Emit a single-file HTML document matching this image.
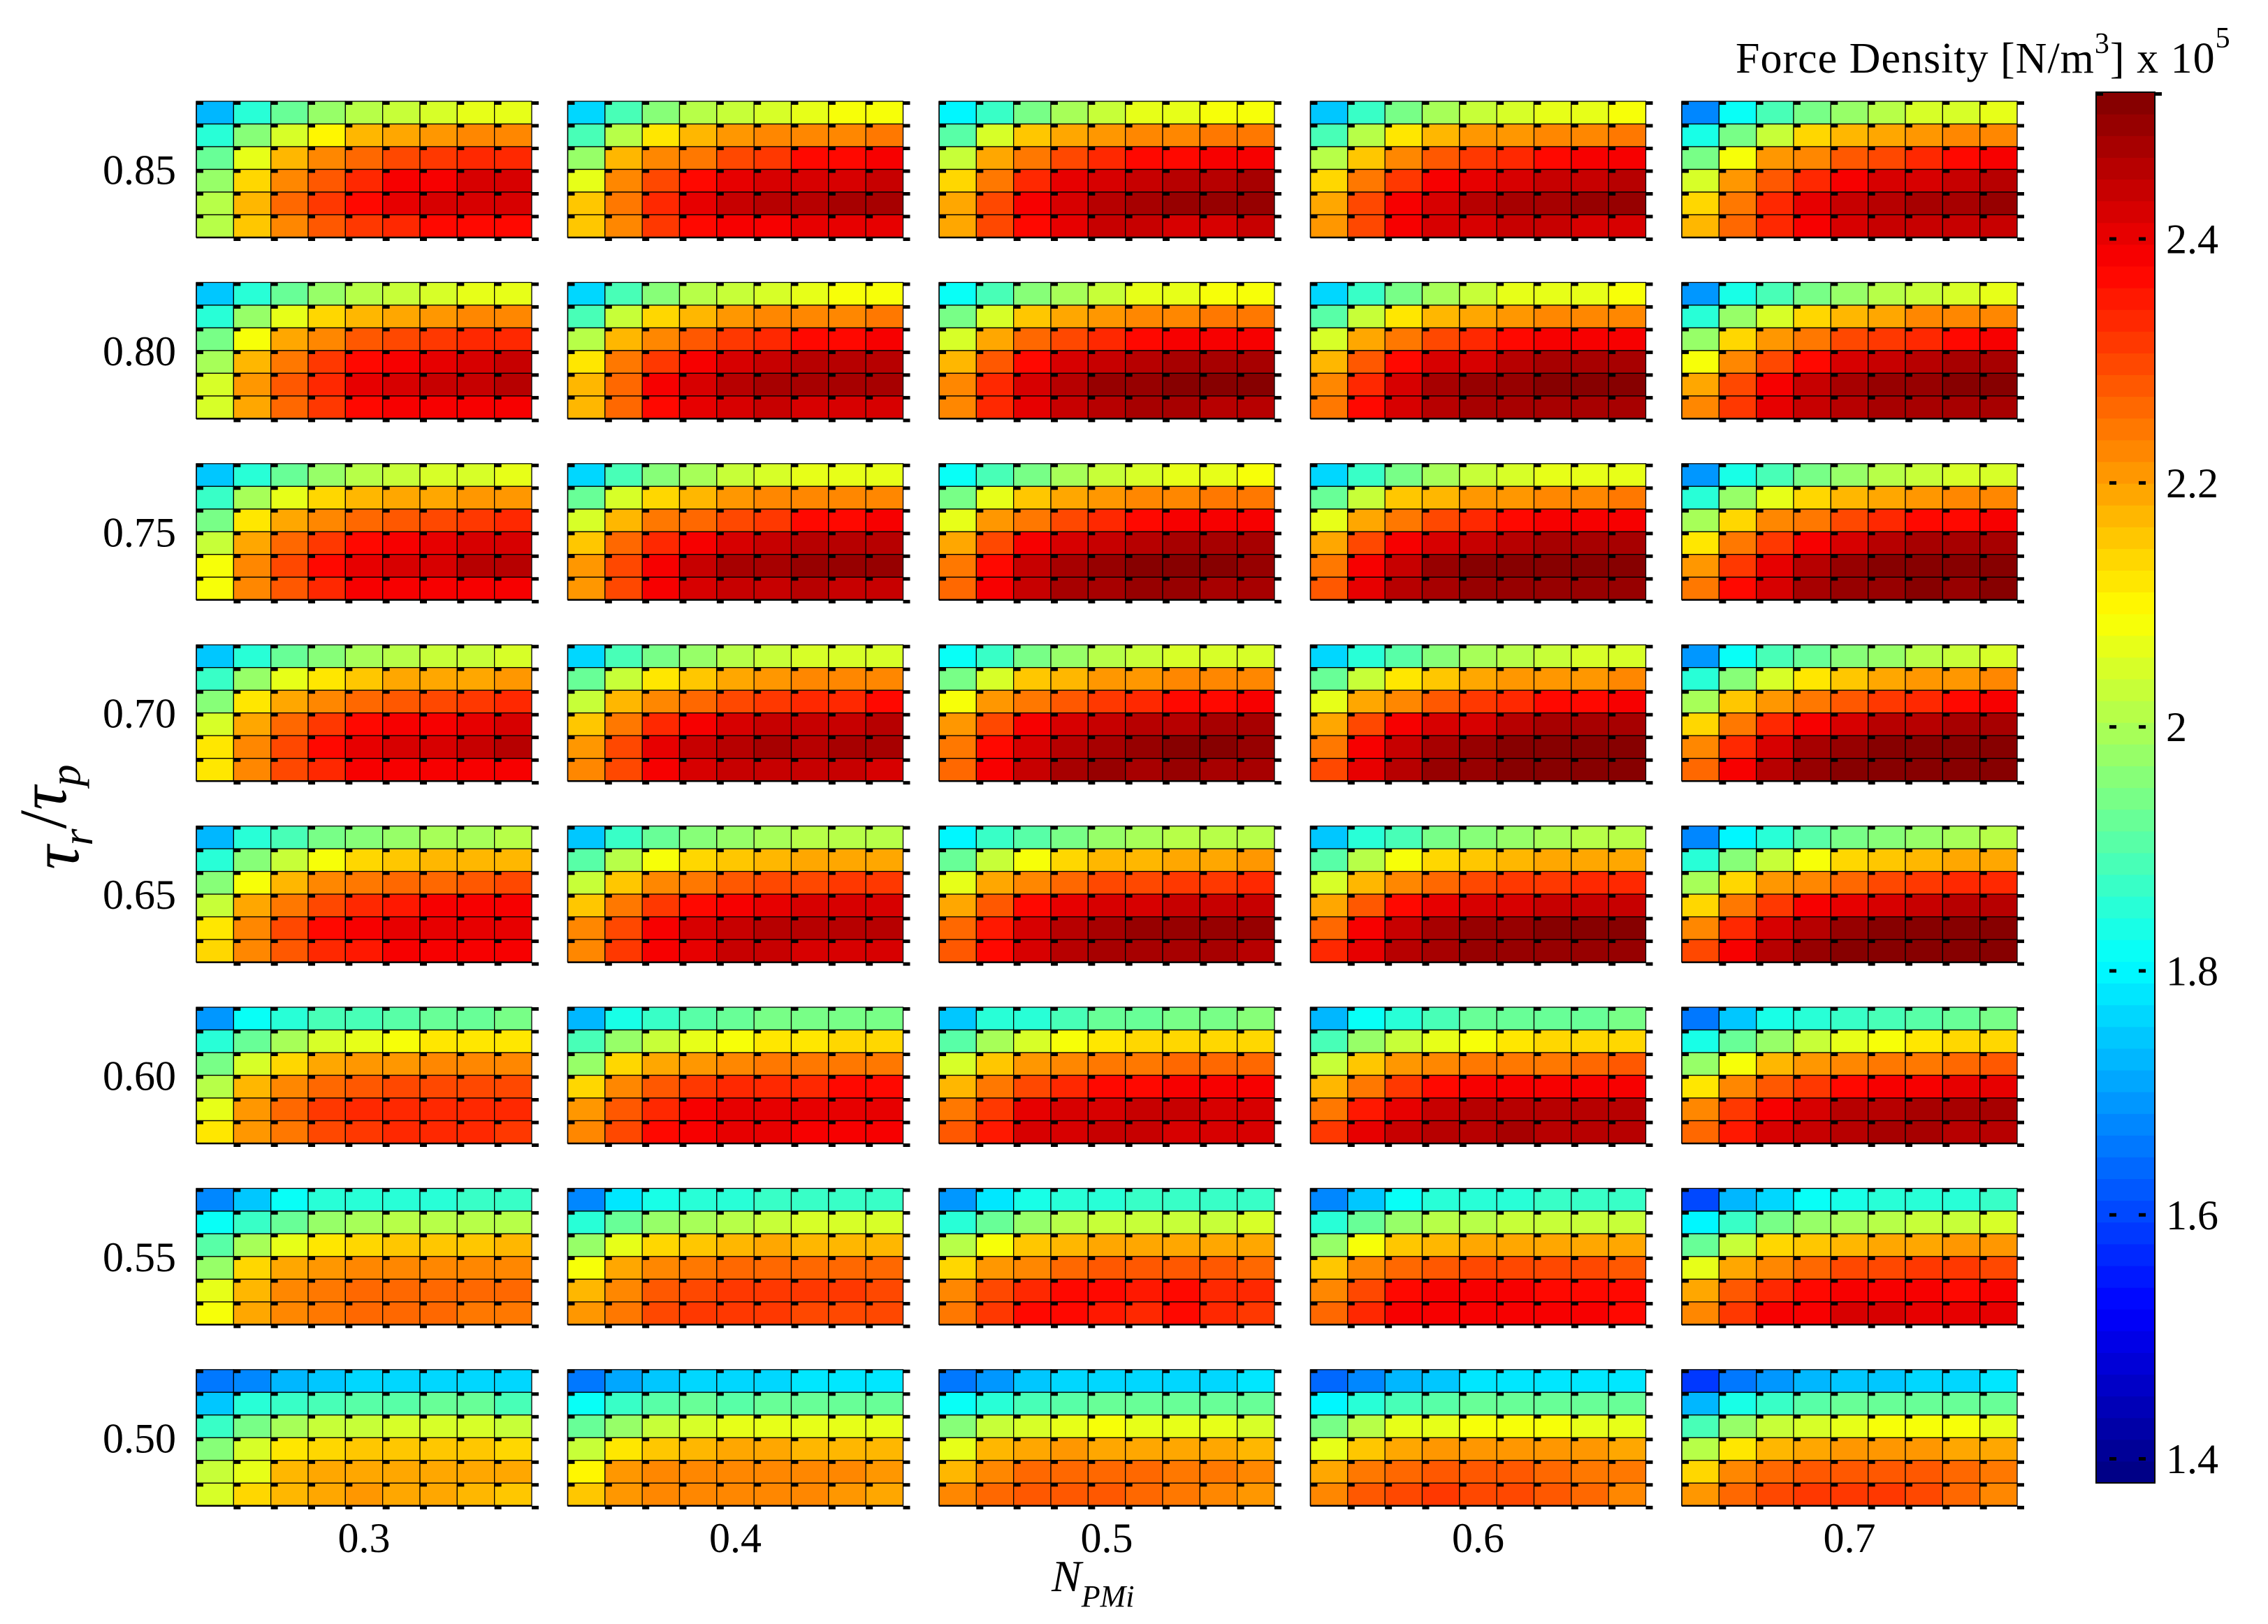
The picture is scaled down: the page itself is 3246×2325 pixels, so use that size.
<!DOCTYPE html>
<html>
<head>
<meta charset="utf-8">
<style>
html,body{margin:0;padding:0;background:#fff;}
svg{display:block;}
text{font-family:"Liberation Serif","DejaVu Serif",serif;fill:#000;}
</style>
</head>
<body>
<svg id="chart" width="3246" height="2325" viewBox="0 0 3246 2325" xmlns="http://www.w3.org/2000/svg"></svg>
<script>
const rowLabels = ['0.85','0.80','0.75','0.70','0.65','0.60','0.55','0.50'];
const colLabels = ['0.3','0.4','0.5','0.6','0.7'];
const cbTicks = [1.4,1.6,1.8,2.0,2.2,2.4];
const cbTickLabels = ['1.4','1.6','1.8','2','2.2','2.4'];
const cMin = 1.38;
const cMax = 2.52;

const fd085 = [
[[1.72,1.85,1.93,1.98,2.02,2.035,2.05,2.07,2.07],[1.85,1.95,2.05,2.11,2.17,2.185,2.20,2.22,2.235],[1.93,2.07,2.17,2.22,2.27,2.30,2.32,2.34,2.34],[1.98,2.13,2.235,2.285,2.34,2.38,2.395,2.415,2.415],[2.02,2.17,2.27,2.32,2.36,2.40,2.415,2.43,2.43],[2.02,2.15,2.235,2.285,2.32,2.34,2.36,2.36,2.36]],
[[1.76,1.89,1.95,2.02,2.035,2.05,2.07,2.09,2.09],[1.89,2.02,2.12,2.17,2.20,2.22,2.235,2.235,2.25],[1.98,2.17,2.22,2.25,2.30,2.32,2.36,2.36,2.38],[2.07,2.22,2.30,2.36,2.41,2.42,2.43,2.43,2.445],[2.15,2.25,2.34,2.40,2.44,2.455,2.455,2.47,2.47],[2.15,2.235,2.32,2.36,2.38,2.395,2.40,2.40,2.40]],
[[1.79,1.87,1.94,2.00,2.035,2.06,2.07,2.09,2.09],[1.91,2.04,2.15,2.185,2.20,2.22,2.235,2.25,2.25],[2.035,2.185,2.25,2.30,2.34,2.36,2.36,2.38,2.39],[2.14,2.25,2.34,2.40,2.42,2.44,2.455,2.455,2.47],[2.185,2.30,2.38,2.43,2.455,2.47,2.49,2.49,2.50],[2.185,2.30,2.36,2.40,2.44,2.445,2.43,2.43,2.44]],
[[1.75,1.87,1.94,2.00,2.035,2.05,2.07,2.07,2.09],[1.89,2.02,2.12,2.17,2.20,2.21,2.225,2.235,2.25],[2.02,2.16,2.235,2.285,2.32,2.34,2.36,2.38,2.38],[2.14,2.245,2.32,2.38,2.41,2.43,2.44,2.445,2.465],[2.19,2.30,2.38,2.43,2.455,2.47,2.48,2.49,2.49],[2.20,2.30,2.38,2.42,2.43,2.445,2.445,2.43,2.43]],
[[1.68,1.81,1.89,1.94,1.98,2.02,2.04,2.05,2.07],[1.83,1.94,2.035,2.13,2.17,2.19,2.21,2.225,2.235],[1.94,2.09,2.20,2.235,2.285,2.30,2.34,2.36,2.38],[2.05,2.20,2.285,2.34,2.38,2.42,2.43,2.445,2.455],[2.14,2.25,2.34,2.40,2.44,2.455,2.47,2.48,2.49],[2.17,2.26,2.34,2.38,2.43,2.44,2.445,2.44,2.44]]
];
const fd080 = [
[[1.75,1.86,1.93,1.98,2.02,2.035,2.05,2.07,2.07],[1.86,1.98,2.07,2.13,2.17,2.19,2.21,2.22,2.225],[1.94,2.09,2.185,2.235,2.28,2.295,2.31,2.33,2.34],[2.00,2.17,2.25,2.32,2.36,2.38,2.40,2.42,2.44],[2.05,2.20,2.285,2.34,2.41,2.43,2.44,2.445,2.465],[2.05,2.19,2.27,2.32,2.36,2.38,2.38,2.39,2.39]],
[[1.77,1.89,1.95,2.02,2.035,2.05,2.07,2.09,2.09],[1.89,2.035,2.13,2.17,2.20,2.22,2.235,2.235,2.245],[2.02,2.17,2.235,2.28,2.32,2.34,2.36,2.36,2.38],[2.12,2.25,2.32,2.38,2.43,2.445,2.455,2.455,2.455],[2.17,2.27,2.38,2.43,2.465,2.48,2.47,2.47,2.47],[2.17,2.27,2.36,2.40,2.43,2.44,2.43,2.43,2.42]],
[[1.81,1.89,1.95,2.00,2.035,2.06,2.07,2.09,2.09],[1.94,2.05,2.15,2.185,2.20,2.22,2.235,2.245,2.245],[2.05,2.19,2.27,2.295,2.34,2.36,2.38,2.38,2.38],[2.18,2.285,2.36,2.42,2.44,2.455,2.47,2.47,2.48],[2.225,2.34,2.42,2.465,2.49,2.50,2.51,2.51,2.505],[2.235,2.34,2.41,2.445,2.465,2.47,2.47,2.455,2.465]],
[[1.76,1.87,1.94,2.00,2.035,2.06,2.07,2.07,2.09],[1.91,2.035,2.12,2.17,2.19,2.21,2.225,2.235,2.235],[2.05,2.19,2.25,2.295,2.34,2.36,2.38,2.38,2.38],[2.18,2.285,2.36,2.42,2.43,2.455,2.47,2.47,2.47],[2.225,2.34,2.43,2.47,2.49,2.50,2.51,2.51,2.51],[2.25,2.36,2.43,2.455,2.47,2.47,2.47,2.47,2.47]],
[[1.70,1.83,1.89,1.94,1.98,2.01,2.035,2.05,2.07],[1.85,1.98,2.05,2.14,2.18,2.19,2.22,2.225,2.235],[1.98,2.13,2.21,2.25,2.295,2.32,2.34,2.36,2.38],[2.09,2.225,2.30,2.36,2.42,2.44,2.455,2.47,2.48],[2.185,2.30,2.38,2.44,2.47,2.49,2.50,2.51,2.51],[2.22,2.32,2.41,2.44,2.465,2.47,2.47,2.48,2.47]]
];
const fd075 = [
[[1.75,1.86,1.93,1.98,2.02,2.035,2.05,2.05,2.06],[1.87,2.00,2.07,2.14,2.17,2.185,2.19,2.21,2.21],[1.94,2.12,2.185,2.235,2.27,2.285,2.30,2.32,2.33],[2.035,2.19,2.27,2.32,2.36,2.395,2.41,2.42,2.43],[2.09,2.22,2.30,2.36,2.40,2.42,2.43,2.455,2.465],[2.09,2.22,2.285,2.34,2.38,2.38,2.395,2.395,2.395]],
[[1.76,1.89,1.95,2.00,2.03,2.05,2.07,2.07,2.07],[1.93,2.05,2.14,2.17,2.20,2.22,2.235,2.235,2.235],[2.04,2.17,2.245,2.27,2.30,2.32,2.36,2.36,2.38],[2.16,2.26,2.34,2.395,2.43,2.44,2.455,2.455,2.455],[2.20,2.30,2.38,2.44,2.47,2.48,2.49,2.49,2.49],[2.20,2.30,2.38,2.42,2.445,2.445,2.455,2.44,2.44]],
[[1.81,1.89,1.94,2.00,2.035,2.05,2.07,2.07,2.09],[1.94,2.07,2.15,2.185,2.20,2.22,2.235,2.25,2.25],[2.07,2.20,2.25,2.30,2.34,2.36,2.38,2.38,2.38],[2.185,2.30,2.38,2.42,2.44,2.455,2.47,2.47,2.48],[2.25,2.36,2.44,2.47,2.49,2.51,2.51,2.51,2.50],[2.27,2.38,2.44,2.47,2.47,2.49,2.49,2.47,2.48]],
[[1.77,1.87,1.94,2.00,2.03,2.04,2.06,2.07,2.07],[1.93,2.035,2.15,2.18,2.20,2.21,2.225,2.235,2.25],[2.07,2.185,2.25,2.295,2.34,2.36,2.38,2.38,2.38],[2.185,2.295,2.38,2.42,2.445,2.465,2.47,2.47,2.48],[2.25,2.38,2.44,2.49,2.51,2.52,2.52,2.52,2.52],[2.285,2.40,2.455,2.48,2.49,2.50,2.50,2.49,2.49]],
[[1.70,1.83,1.89,1.94,1.98,2.01,2.03,2.04,2.05],[1.86,1.98,2.07,2.14,2.17,2.19,2.21,2.22,2.225],[2.00,2.14,2.22,2.25,2.295,2.33,2.36,2.36,2.38],[2.12,2.25,2.32,2.38,2.43,2.455,2.47,2.48,2.47],[2.20,2.32,2.40,2.455,2.49,2.51,2.52,2.52,2.52],[2.25,2.36,2.43,2.47,2.49,2.50,2.51,2.50,2.51]]
];
const fd070 = [
[[1.75,1.86,1.93,1.95,2.00,2.02,2.035,2.035,2.05],[1.87,1.98,2.07,2.12,2.16,2.185,2.185,2.19,2.20],[1.95,2.12,2.185,2.235,2.27,2.285,2.295,2.31,2.33],[2.04,2.19,2.27,2.32,2.36,2.38,2.395,2.41,2.42],[2.12,2.225,2.30,2.36,2.41,2.42,2.43,2.44,2.455],[2.12,2.235,2.295,2.34,2.38,2.395,2.395,2.395,2.395]],
[[1.77,1.89,1.94,1.98,2.02,2.035,2.05,2.05,2.05],[1.93,2.035,2.12,2.16,2.185,2.20,2.22,2.22,2.22],[2.035,2.17,2.235,2.27,2.30,2.32,2.34,2.34,2.36],[2.16,2.25,2.34,2.395,2.43,2.44,2.44,2.44,2.455],[2.21,2.30,2.40,2.44,2.465,2.47,2.465,2.48,2.47],[2.22,2.30,2.38,2.42,2.44,2.445,2.44,2.44,2.43]],
[[1.81,1.87,1.94,1.98,2.02,2.035,2.05,2.05,2.05],[1.94,2.04,2.15,2.18,2.20,2.21,2.22,2.225,2.235],[2.09,2.20,2.25,2.285,2.32,2.34,2.36,2.36,2.38],[2.20,2.295,2.38,2.42,2.44,2.455,2.465,2.47,2.48],[2.25,2.36,2.43,2.465,2.48,2.50,2.51,2.505,2.50],[2.27,2.395,2.44,2.47,2.49,2.48,2.49,2.48,2.47]],
[[1.76,1.86,1.91,1.95,2.00,2.02,2.035,2.05,2.05],[1.93,2.035,2.12,2.16,2.185,2.20,2.20,2.21,2.225],[2.06,2.185,2.235,2.285,2.31,2.34,2.36,2.36,2.38],[2.19,2.295,2.38,2.42,2.43,2.455,2.47,2.47,2.47],[2.25,2.38,2.445,2.48,2.50,2.51,2.52,2.52,2.52],[2.30,2.41,2.465,2.49,2.50,2.51,2.51,2.51,2.51]],
[[1.70,1.81,1.89,1.93,1.95,1.98,2.02,2.035,2.05],[1.86,1.95,2.05,2.12,2.16,2.185,2.20,2.21,2.22],[2.00,2.15,2.21,2.245,2.285,2.31,2.34,2.36,2.38],[2.14,2.25,2.34,2.38,2.43,2.455,2.465,2.48,2.48],[2.22,2.34,2.43,2.47,2.50,2.51,2.52,2.52,2.52],[2.27,2.38,2.455,2.49,2.51,2.52,2.52,2.52,2.52]]
];
const fd065 = [
[[1.72,1.85,1.89,1.94,1.95,1.98,2.00,2.00,2.02],[1.86,1.95,2.035,2.09,2.14,2.16,2.17,2.17,2.18],[1.95,2.09,2.18,2.22,2.245,2.26,2.27,2.28,2.295],[2.035,2.185,2.245,2.295,2.33,2.35,2.38,2.38,2.395],[2.12,2.22,2.295,2.36,2.38,2.40,2.41,2.41,2.41],[2.14,2.225,2.285,2.33,2.35,2.38,2.38,2.38,2.38]],
[[1.75,1.87,1.93,1.95,1.98,1.99,2.02,2.02,2.02],[1.91,2.02,2.09,2.14,2.16,2.17,2.185,2.185,2.19],[2.03,2.16,2.22,2.245,2.28,2.295,2.30,2.32,2.32],[2.16,2.245,2.32,2.36,2.38,2.40,2.415,2.415,2.415],[2.22,2.30,2.38,2.42,2.445,2.465,2.455,2.455,2.455],[2.235,2.31,2.38,2.41,2.44,2.445,2.43,2.43,2.42]],
[[1.80,1.87,1.91,1.94,1.98,1.99,2.02,2.02,2.02],[1.93,2.03,2.09,2.14,2.17,2.18,2.185,2.19,2.20],[2.06,2.185,2.225,2.26,2.295,2.30,2.32,2.32,2.34],[2.185,2.285,2.36,2.40,2.415,2.43,2.44,2.44,2.445],[2.27,2.35,2.43,2.455,2.47,2.49,2.50,2.49,2.49],[2.285,2.36,2.43,2.465,2.47,2.47,2.47,2.47,2.465]],
[[1.75,1.85,1.89,1.94,1.95,1.98,2.00,2.02,2.02],[1.91,2.02,2.09,2.14,2.16,2.17,2.185,2.19,2.19],[2.05,2.17,2.225,2.26,2.295,2.31,2.32,2.34,2.34],[2.19,2.285,2.36,2.40,2.42,2.43,2.44,2.445,2.445],[2.27,2.38,2.44,2.47,2.49,2.50,2.51,2.51,2.51],[2.33,2.41,2.455,2.48,2.49,2.50,2.50,2.49,2.49]],
[[1.68,1.79,1.86,1.91,1.94,1.95,1.98,2.00,2.01],[1.85,1.95,2.035,2.09,2.14,2.16,2.18,2.185,2.19],[2.00,2.13,2.20,2.235,2.27,2.295,2.32,2.33,2.34],[2.14,2.25,2.32,2.38,2.41,2.43,2.44,2.455,2.465],[2.235,2.34,2.42,2.465,2.49,2.51,2.51,2.52,2.52],[2.295,2.38,2.455,2.49,2.51,2.51,2.51,2.51,2.51]]
];
const fd060 = [
[[1.70,1.81,1.86,1.89,1.89,1.91,1.93,1.93,1.94],[1.85,1.93,1.99,2.04,2.06,2.09,2.12,2.12,2.12],[1.94,2.04,2.14,2.185,2.20,2.21,2.22,2.22,2.22],[2.02,2.17,2.22,2.26,2.28,2.295,2.30,2.30,2.30],[2.07,2.21,2.27,2.31,2.33,2.34,2.34,2.34,2.34],[2.12,2.21,2.25,2.295,2.31,2.33,2.33,2.33,2.31]],
[[1.73,1.83,1.87,1.91,1.93,1.94,1.94,1.94,1.94],[1.89,1.98,2.035,2.07,2.09,2.12,2.12,2.14,2.14],[1.98,2.14,2.185,2.21,2.225,2.245,2.25,2.25,2.25],[2.14,2.22,2.285,2.31,2.34,2.34,2.34,2.36,2.36],[2.20,2.28,2.34,2.38,2.40,2.41,2.40,2.40,2.40],[2.22,2.295,2.36,2.38,2.40,2.41,2.38,2.38,2.38]],
[[1.75,1.85,1.86,1.89,1.93,1.93,1.94,1.94,1.95],[1.91,1.99,2.04,2.09,2.12,2.13,2.14,2.14,2.14],[2.04,2.16,2.20,2.225,2.245,2.25,2.27,2.27,2.26],[2.17,2.245,2.30,2.33,2.36,2.36,2.38,2.38,2.38],[2.245,2.32,2.40,2.415,2.43,2.44,2.44,2.43,2.43],[2.285,2.35,2.415,2.43,2.44,2.44,2.43,2.42,2.415]],
[[1.72,1.81,1.86,1.89,1.93,1.93,1.93,1.93,1.94],[1.89,1.98,2.035,2.07,2.09,2.12,2.14,2.14,2.14],[2.035,2.16,2.20,2.22,2.245,2.25,2.25,2.27,2.285],[2.18,2.25,2.32,2.36,2.38,2.38,2.38,2.38,2.38],[2.245,2.35,2.41,2.44,2.455,2.455,2.465,2.465,2.465],[2.32,2.41,2.44,2.455,2.455,2.47,2.455,2.455,2.455]],
[[1.66,1.75,1.83,1.86,1.87,1.89,1.91,1.93,1.94],[1.83,1.93,1.98,2.035,2.07,2.09,2.12,2.14,2.14],[1.98,2.09,2.18,2.20,2.225,2.245,2.25,2.27,2.285],[2.12,2.22,2.285,2.32,2.36,2.38,2.395,2.41,2.41],[2.22,2.32,2.38,2.43,2.455,2.465,2.47,2.47,2.47],[2.27,2.35,2.415,2.445,2.465,2.47,2.47,2.465,2.465]]
];
const fd055 = [
[[1.68,1.75,1.81,1.85,1.85,1.86,1.86,1.87,1.87],[1.81,1.87,1.93,1.98,2.00,2.02,2.02,2.02,2.02],[1.91,2.00,2.07,2.12,2.14,2.16,2.16,2.16,2.17],[1.98,2.13,2.185,2.20,2.22,2.22,2.22,2.235,2.225],[2.07,2.18,2.225,2.245,2.26,2.27,2.27,2.27,2.27],[2.09,2.185,2.225,2.245,2.26,2.26,2.26,2.25,2.25]],
[[1.68,1.78,1.83,1.85,1.86,1.87,1.87,1.87,1.87],[1.86,1.93,1.98,2.00,2.02,2.035,2.04,2.04,2.04],[1.98,2.07,2.14,2.16,2.18,2.185,2.18,2.18,2.18],[2.09,2.185,2.225,2.245,2.26,2.27,2.27,2.27,2.27],[2.18,2.235,2.28,2.30,2.31,2.32,2.32,2.32,2.30],[2.20,2.25,2.295,2.31,2.32,2.32,2.30,2.30,2.295]],
[[1.70,1.78,1.83,1.85,1.86,1.87,1.87,1.87,1.87],[1.86,1.93,1.98,2.02,2.035,2.035,2.035,2.035,2.04],[2.02,2.09,2.16,2.18,2.185,2.185,2.185,2.185,2.185],[2.14,2.21,2.235,2.27,2.28,2.28,2.285,2.28,2.27],[2.22,2.295,2.34,2.36,2.36,2.35,2.36,2.34,2.33],[2.25,2.32,2.36,2.36,2.35,2.34,2.36,2.34,2.32]],
[[1.68,1.75,1.81,1.85,1.86,1.86,1.87,1.87,1.87],[1.85,1.93,1.98,2.02,2.02,2.03,2.03,2.03,2.03],[1.98,2.09,2.16,2.18,2.185,2.185,2.185,2.185,2.185],[2.15,2.22,2.27,2.285,2.30,2.30,2.295,2.30,2.285],[2.235,2.30,2.36,2.38,2.38,2.38,2.37,2.36,2.36],[2.27,2.34,2.38,2.395,2.395,2.395,2.38,2.38,2.36]],
[[1.61,1.72,1.77,1.81,1.83,1.85,1.86,1.86,1.87],[1.80,1.87,1.94,1.98,2.00,2.02,2.03,2.035,2.04],[1.93,2.035,2.13,2.16,2.18,2.19,2.19,2.20,2.20],[2.07,2.185,2.235,2.26,2.295,2.30,2.31,2.32,2.30],[2.185,2.28,2.33,2.36,2.38,2.38,2.38,2.37,2.38],[2.235,2.32,2.38,2.395,2.42,2.415,2.40,2.41,2.40]]
];
const fd050 = [
[[1.65,1.68,1.72,1.75,1.77,1.77,1.77,1.77,1.77],[1.75,1.85,1.87,1.89,1.91,1.91,1.93,1.93,1.89],[1.87,1.94,2.00,2.035,2.035,2.05,2.05,2.05,2.035],[1.95,2.04,2.12,2.14,2.15,2.16,2.16,2.16,2.14],[2.035,2.07,2.17,2.185,2.19,2.19,2.185,2.185,2.185],[2.04,2.13,2.17,2.185,2.20,2.185,2.185,2.17,2.15]],
[[1.65,1.71,1.75,1.77,1.77,1.77,1.78,1.78,1.78],[1.81,1.87,1.91,1.93,1.91,1.93,1.93,1.93,1.93],[1.93,1.98,2.035,2.05,2.07,2.07,2.07,2.06,2.06],[2.03,2.12,2.16,2.18,2.185,2.185,2.18,2.18,2.18],[2.11,2.20,2.22,2.225,2.235,2.235,2.225,2.225,2.21],[2.15,2.21,2.235,2.235,2.235,2.235,2.225,2.20,2.185]],
[[1.65,1.70,1.74,1.76,1.77,1.77,1.77,1.77,1.78],[1.81,1.86,1.89,1.91,1.93,1.93,1.93,1.93,1.93],[1.95,2.03,2.05,2.07,2.09,2.07,2.07,2.07,2.05],[2.07,2.17,2.185,2.20,2.19,2.19,2.185,2.185,2.18],[2.17,2.235,2.26,2.26,2.27,2.26,2.25,2.25,2.235],[2.22,2.26,2.285,2.285,2.28,2.26,2.25,2.235,2.21]],
[[1.64,1.68,1.72,1.75,1.78,1.78,1.78,1.78,1.78],[1.79,1.86,1.89,1.91,1.93,1.93,1.93,1.93,1.93],[1.94,2.02,2.06,2.07,2.09,2.09,2.09,2.07,2.07],[2.07,2.16,2.185,2.20,2.20,2.20,2.20,2.20,2.185],[2.19,2.245,2.27,2.28,2.285,2.285,2.27,2.25,2.245],[2.235,2.285,2.30,2.32,2.295,2.295,2.28,2.26,2.235]],
[[1.58,1.65,1.69,1.73,1.75,1.75,1.77,1.77,1.78],[1.73,1.83,1.87,1.91,1.93,1.93,1.93,1.93,1.93],[1.89,1.98,2.035,2.05,2.07,2.09,2.09,2.09,2.07],[2.02,2.12,2.18,2.19,2.21,2.21,2.20,2.19,2.19],[2.14,2.225,2.26,2.28,2.28,2.28,2.28,2.26,2.245],[2.20,2.26,2.295,2.31,2.32,2.31,2.295,2.27,2.235]]
];
const panelRowData = [fd085, fd080, fd075, fd070, fd065, fd060, fd055, fd050];

const NS = 'http://www.w3.org/2000/svg';
const svg = document.getElementById('chart');
const PANEL_X0 = 281, PANEL_DX = 531.5, PANEL_W = 480;
const PANEL_Y0 = 145, PANEL_DY = 259.4, PANEL_H = 195;
const NCOL = 9, NROW = 6;
const CB_X = 3000, CB_W = 84, CB_TOP = 132, CB_BOT = 2123;

function xScale(panelCol, j) { return PANEL_X0 + panelCol * PANEL_DX + j * PANEL_W / NCOL; }
function yScale(panelRow, i) { return PANEL_Y0 + panelRow * PANEL_DY + i * PANEL_H / NROW; }
function cbScale(v) { return CB_BOT - (v - cMin) / (cMax - cMin) * (CB_BOT - CB_TOP); }
function clamp(x) { return Math.max(0, Math.min(1, x)); }
function jet(v) {
  let t = clamp((v - cMin) / (cMax - cMin));
  t = (Math.min(63, Math.floor(t * 64)) + 0.5) / 64;
  const r = clamp(1.5 - Math.abs(4 * t - 3));
  const g = clamp(1.5 - Math.abs(4 * t - 2));
  const b = clamp(1.5 - Math.abs(4 * t - 1));
  return 'rgb(' + Math.round(r * 255) + ',' + Math.round(g * 255) + ',' + Math.round(b * 255) + ')';
}
function mk(tag, attrs, parent) {
  const e = document.createElementNS(NS, tag);
  for (const k in attrs) e.setAttribute(k, attrs[k]);
  (parent || svg).appendChild(e);
  return e;
}

panelRowData.forEach((rowPanels, pr) => {
  rowPanels.forEach((grid, pc) => {
    const g = mk('g', {});
    
    
    grid.forEach((rowVals, i) => {
      rowVals.forEach((v, j) => {
        const x0 = xScale(pc, j), x1 = xScale(pc, j + 1);
        const y0 = yScale(pr, i), y1 = yScale(pr, i + 1);
        const c = mk('rect', {x: x0, y: y0, width: x1 - x0, height: y1 - y0, fill: jet(v), stroke: '#000', 'stroke-width': 1.3}, g);
        
        
      });
    });
    const xl = xScale(pc, 0), xr = xScale(pc, NCOL), yt = yScale(pr, 0), yb = yScale(pr, NROW);
    mk('line', {x1: xl, y1: yb, x2: xr, y2: yb, stroke: '#000', 'stroke-width': 2.5}, g);
    mk('line', {x1: xl, y1: yt, x2: xl, y2: yb, stroke: '#000', 'stroke-width': 1.5}, g);
    for (let i = 0; i < NROW; i++) {
      const y = yScale(pr, i);
      for (let j = 0; j < NCOL; j++) {
        mk('rect', {x: xScale(pc, j), y: y, width: 10, height: 5, fill: '#000'}, g);
      }
      mk('rect', {x: xr, y: y, width: 10, height: 5, fill: '#000'}, g);
    }
    for (let j = 1; j <= NCOL; j++) {
      mk('rect', {x: xScale(pc, j), y: yb, width: 10, height: 5, fill: '#000'}, g);
    }
  });
});

rowLabels.forEach((lab, pr) => {
  const t = mk('text', {x: 252, y: yScale(pr, 3) + 21, 'text-anchor': 'end', 'font-size': 60});
  t.textContent = lab;
  
  
});
colLabels.forEach((lab, pc) => {
  const t = mk('text', {x: xScale(pc, 4.5), y: 2222, 'text-anchor': 'middle', 'font-size': 60});
  t.textContent = lab;
  
  
});

const xt = mk('text', {x: 1505, y: 2278, 'font-size': 64, 'font-style': 'italic'});


const xt1 = mk('tspan', {}, xt); xt1.textContent = 'N';
const xt2 = mk('tspan', {dy: 22, 'font-size': 44}, xt); xt2.textContent = 'PMi';

const yt = mk('text', {x: 0, y: 0, 'font-size': 96, 'font-style': 'italic', transform: 'translate(112,1245) rotate(-90)'});


const y1s = mk('tspan', {}, yt); y1s.textContent = 'τ';
const y2s = mk('tspan', {dy: 20, 'font-size': 62}, yt); y2s.textContent = 'r';
const y3s = mk('tspan', {dy: -38, 'font-size': 96, 'font-style': 'normal'}, yt); y3s.textContent = '/';
const y4s = mk('tspan', {dy: 0}, yt); y4s.textContent = 'τ';
const y5s = mk('tspan', {dy: 20, 'font-size': 62}, yt); y5s.textContent = 'p';

const cb = mk('g', {});


const NLEV = 64;
for (let k = 0; k < NLEV; k++) {
  const v0 = cMin + k * (cMax - cMin) / NLEV, v1 = cMin + (k + 1) * (cMax - cMin) / NLEV;
  mk('rect', {x: CB_X, y: cbScale(v1), width: CB_W, height: cbScale(v0) - cbScale(v1) + 0.6, fill: jet((v0 + v1) / 2)}, cb);
}
mk('rect', {x: CB_X, y: CB_TOP, width: CB_W, height: CB_BOT - CB_TOP, fill: 'none', stroke: '#000', 'stroke-width': 2}, cb);
mk('rect', {x: CB_X, y: CB_TOP, width: 10, height: 5, fill: '#000'}, cb);
mk('rect', {x: CB_X + CB_W, y: CB_TOP, width: 10, height: 5, fill: '#000'}, cb);
cbTicks.forEach((v, k) => {
  const y = cbScale(v);
  mk('rect', {x: CB_X + 19, y: y - 2, width: 10, height: 5, fill: '#000'}, cb);
  mk('rect', {x: CB_X + CB_W - 23, y: y - 2, width: 10, height: 5, fill: '#000'}, cb);
  const t = mk('text', {x: CB_X + CB_W + 16, y: y + 21, 'font-size': 60}, cb);
  t.textContent = cbTickLabels[k];
  
  
});

const ct = mk('text', {x: 2484, y: 104, 'font-size': 62, 'letter-spacing': 1});


const c1 = mk('tspan', {}, ct); c1.textContent = 'Force Density [N/m';
const c2 = mk('tspan', {dy: -28, 'font-size': 42}, ct); c2.textContent = '3';
const c3 = mk('tspan', {dy: 28}, ct); c3.textContent = '] x 10';
const c4 = mk('tspan', {dy: -36, 'font-size': 42}, ct); c4.textContent = '5';
</script>
</body>
</html>
